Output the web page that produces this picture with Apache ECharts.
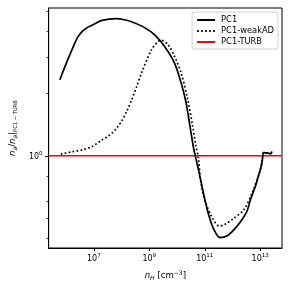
<!DOCTYPE html>
<html><head><meta charset="utf-8">
<script src="https://cdn.jsdelivr.net/npm/echarts@6/dist/echarts.min.js"></script>
<style>html,body{margin:0;padding:0;background:#fff}#c{width:291px;height:291px}</style>
</head><body><div id="c"></div>
<script>
const nH_PC1 = [5.94e5, 9.73e5, 1.68e6, 2.54e6, 3.83e6, 5.77e6, 8.69e6, 1.98e7, 6.78e7, 1.54e8, 2.96e8, 6.75e8, 1.57e9, 3.57e9, 8.11e9, 1.41e10, 2.12e10, 2.94e10, 3.85e10, 4.55e10, 6.31e10, 9.53e10, 1.44e11, 2.16e11, 3.54e11, 6.55e11, 9.86e11, 1.49e12, 2.24e12, 3.38e12, 4.40e12, 6.64e12, 1.0e13, 1.15e13, 1.25e13, 1.33e13, 1.98e13, 2.28e13, 2.68e13];
const ratio_PC1 = [2.33, 2.76, 3.29, 3.72, 4.00, 4.17, 4.28, 4.52, 4.61, 4.53, 4.39, 4.17, 3.85, 3.38, 2.81, 2.25, 1.806, 1.387, 1.109, 1.0, 0.824, 0.635, 0.508, 0.438, 0.402, 0.410, 0.431, 0.458, 0.493, 0.542, 0.612, 0.710, 0.855, 0.922, 1.011, 1.037, 1.03, 1.022, 1.049];
const nH_weakAD = [6.44e5, 1.68e6, 3.83e6, 8.69e6, 1.98e7, 2.98e7, 4.49e7, 6.78e7, 1.02e8, 1.54e8, 2.32e8, 3.50e8, 5.27e8, 1.20e9, 2.07e9, 2.72e9, 4.72e9, 8.11e9, 1.41e10, 2.44e10, 3.67e10, 4.82e10, 5.82e10, 7.26e10, 1.09e11, 1.90e11, 3.26e11, 4.92e11, 1.12e12, 2.54e12, 5.06e12, 1.0e13, 1.25e13, 1.33e13, 1.98e13, 2.28e13, 2.68e13];
const ratio_weakAD = [1.019, 1.046, 1.069, 1.109, 1.195, 1.233, 1.285, 1.366, 1.477, 1.643, 1.867, 2.16, 2.52, 3.26, 3.58, 3.62, 3.45, 3.03, 2.515, 1.867, 1.387, 1.109, 0.992, 0.738, 0.590, 0.499, 0.458, 0.463, 0.499, 0.548, 0.660, 0.855, 1.011, 1.037, 1.03, 1.022, 1.049];
const nH_TURB = [2.35e5, 6.08e13];
const ratio_TURB = [1, 1];
const xTicks = [1e7, 1e9, 1e11, 1e13];
const yMajorTicks = [1];
const yMinorTicks = [0.4, 0.5, 0.6, 0.8, 2, 3, 4, 5];

const zip = (a, b) => a.map((v, i) => [v, b[i]]);
const FONT = 'DejaVu Sans';
const expFmt = v => '{b|10}{s|' + Math.round(Math.log10(v)) + '}';
const tickRich = {
  b: {fontFamily: FONT, fontSize: 8, color: '#000', lineHeight: 10, verticalAlign: 'bottom'},
  s: {fontFamily: FONT, fontSize: 5.6, color: '#000', lineHeight: 10, verticalAlign: 'top', padding: [0, 0, 3, 0]}
};
const labRich = {
  i: {fontFamily: FONT, fontStyle: 'italic', fontSize: 8.6, color: '#000', lineHeight: 11, verticalAlign: 'middle'},
  sb: {fontFamily: FONT, fontStyle: 'italic', fontSize: 6, color: '#000', lineHeight: 11, verticalAlign: 'bottom'},
  t: {fontFamily: FONT, fontSize: 8.6, color: '#000', lineHeight: 11, verticalAlign: 'middle'},
  sp: {fontFamily: FONT, fontSize: 6, color: '#000', lineHeight: 11, verticalAlign: 'top'},
  ss: {fontFamily: FONT, fontSize: 5.2, color: '#000', lineHeight: 11, verticalAlign: 'bottom'}
};
const chart = echarts.init(document.getElementById('c'), null, {renderer: 'canvas'});
const yBase = {type: 'log', min: 0.358, max: 5.19, gridIndex: 0};
chart.setOption({
  animation: false,
  backgroundColor: '#fff',
  grid: {left: 46, right: 9, top: 8, bottom: 43, show: true, borderColor: '#000', borderWidth: 1, backgroundColor: 'transparent'},
  legend: {
    right: 13, top: 12, orient: 'vertical', itemWidth: 18, itemHeight: 8, itemGap: 3,
    padding: [4, 4, 3, 4], borderColor: '#d0d0d0', borderWidth: 1, borderRadius: 2,
    backgroundColor: 'rgba(255,255,255,0.85)',
    itemStyle: {opacity: 0},
    textStyle: {fontFamily: FONT, fontSize: 8.3, color: '#000', padding: [0, 0, 0, 1]},
    data: ['PC1', 'PC1-weakAD', 'PC1-TURB']
  },
  xAxis: {
    type: 'log', min: 2.35e5, max: 6.08e13,
    axisLine: {show: true, lineStyle: {color: '#000', width: 1}},
    axisTick: {show: true, length: 3, customValues: xTicks, lineStyle: {color: '#000'}},
    axisLabel: {customValues: xTicks, margin: 5, formatter: expFmt, rich: tickRich},
    splitLine: {show: false}, minorTick: {show: false},
    name: '{i|n}{sb|H}{t| [cm}{sp|−3}{t|]}', nameLocation: 'middle', nameGap: 22,
    nameTextStyle: {rich: labRich}
  },
  yAxis: [
    Object.assign({}, yBase, {
      axisLine: {show: true, lineStyle: {color: '#000', width: 1}},
      axisTick: {show: true, length: 3.5, customValues: yMajorTicks, lineStyle: {color: '#000'}},
      axisLabel: {customValues: yMajorTicks, margin: 6, formatter: expFmt, rich: tickRich},
      splitLine: {show: false},
      name: '{i|n}{sb|a}{t|/}{i|n}{sb|a}{t||}{ss|PC1 − TURB}', nameLocation: 'middle', nameGap: 27, nameRotate: 90,
      nameTextStyle: {rich: labRich}
    }),
    Object.assign({}, yBase, {
      position: 'left',
      axisLine: {show: false},
      axisTick: {show: true, length: 2, customValues: yMinorTicks, lineStyle: {color: '#000', width: 0.8}},
      axisLabel: {show: false},
      splitLine: {show: false}
    })
  ],
  series: [
    {name: 'PC1', type: 'line', data: zip(nH_PC1, ratio_PC1), showSymbol: false, symbol: 'none', smooth: 0.3,
     lineStyle: {color: '#000', width: 1.7, type: 'solid'}, itemStyle: {color: '#000'}, z: 3},
    {name: 'PC1-weakAD', type: 'line', data: zip(nH_weakAD, ratio_weakAD), showSymbol: false, symbol: 'none', smooth: 0.3,
     lineStyle: {color: '#000', width: 1.7, type: [1.7, 2.3]}, itemStyle: {color: '#000'}, z: 3},
    {name: 'PC1-TURB', type: 'line', data: zip(nH_TURB, ratio_TURB), showSymbol: false, symbol: 'none',
     lineStyle: {color: '#ff0000', width: 1.5}, itemStyle: {color: '#ff0000'}, z: 2}
  ]
});
</script></body></html>
